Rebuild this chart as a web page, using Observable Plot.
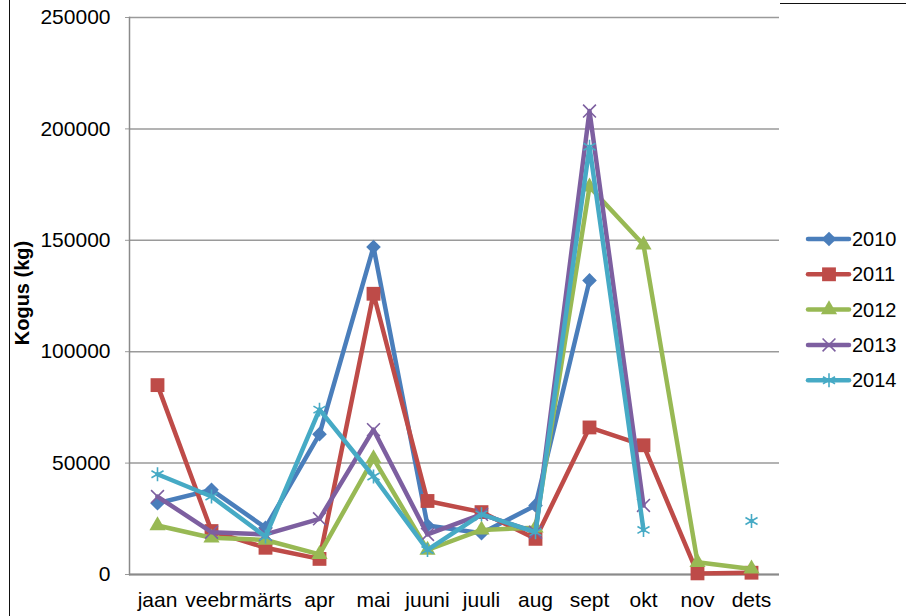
<!DOCTYPE html>
<html>
<head>
<meta charset="utf-8">
<script src="https://cdn.jsdelivr.net/npm/d3@7"></script>
<script src="https://cdn.jsdelivr.net/npm/@observablehq/plot@0.6"></script>
<style>
  html, body { margin: 0; padding: 0; background: #fff; }
  #wrap { position: relative; width: 906px; height: 616px; overflow: hidden; font-family: "Liberation Sans", Arial, sans-serif; }
  #chart { position: absolute; left: 0; top: 0; }
  #legend { position: absolute; left: 800px; top: 222px; }
  .bl { position: absolute; background: #111; }
</style>
</head>
<body>
<div id="wrap">
  <div class="bl" style="left:9px; top:0; width:1px; height:616px;"></div>
  <div class="bl" style="left:780px; top:3px; width:126px; height:1px;"></div>
  <div id="chart"></div>
  <svg id="legend" width="106" height="180"></svg>
</div>
<script>
// ---- data ----
const months = ["jaan", "veebr", "märts", "apr", "mai", "juuni", "juuli", "aug", "sept", "okt", "nov", "dets"];
const years = ["2010", "2011", "2012", "2013", "2014"];
const yTicks = [0, 50000, 100000, 150000, 200000, 250000];
const v2010 = [32000, 38000, 21000, 63000, 147000, 22000, 18500, 31000, 132000, null, null, null];
const v2011 = [85000, 19500, 12000, 7000, 126000, 33000, 28000, 16000, 66000, 58000, 500, 800];
const v2012 = [22000, 16500, 15500, 9000, 52000, 11000, 20000, 21000, 174000, 148000, 5500, 2500];
const v2013 = [35000, 19000, 18000, 25000, 65000, 18000, 27000, 19000, 208000, 31000, null, null];
const v2014 = [45000, 35000, 17000, 74000, 44000, 11000, 27000, 19000, 192000, 20000, null, 24000];

const seriesValues = [v2010, v2011, v2012, v2013, v2014];
const colors = ["#4A7EBB", "#BE4B48", "#98B954", "#7D5FA0", "#46AAC5"];
const symbols = ["diamond2", "square", "triangle", "times", "asterisk"];
const radii = [6.6, 7.8, 6.0, 5.9, 6.6];
const filled = [true, true, true, false, false];

const rows = [];
years.forEach((yr, i) => months.forEach((m, j) => rows.push({year: yr, month: m, value: seriesValues[i][j]})));

const marks = [
  Plot.gridY(yTicks, {stroke: "#9a9a9a", strokeOpacity: 1, strokeWidth: 1.5}),
  Plot.axisY(yTicks, {tickSize: 4, tickPadding: 15, fontSize: 21, stroke: "#9a9a9a", tickFormat: d => String(d), label: null}),
  Plot.axisX({tickSize: 0, tickPadding: 18, fontSize: 21, label: null}),
  Plot.frame({anchor: "left", stroke: "#8a8a8a", strokeWidth: 1.5}),
  Plot.ruleY([0], {stroke: "#8a8a8a", strokeWidth: 2})
];
years.forEach((yr, i) => {
  const d = rows.filter(r => r.year === yr);
  marks.push(Plot.line(d, {x: "month", y: "value", stroke: colors[i], strokeWidth: 4.5, strokeLinejoin: "round", strokeLinecap: "round"}));
  marks.push(Plot.dot(d.filter(r => r.value != null), {
    x: "month", y: "value", symbol: () => symbols[i], r: radii[i],
    fill: filled[i] ? colors[i] : "none", stroke: colors[i], strokeWidth: filled[i] ? 0 : 1.6
  }));
});

const chart = Plot.plot({
  width: 906,
  height: 616,
  marginLeft: 129,
  marginRight: 127,
  marginTop: 17,
  marginBottom: 42,
  style: {fontFamily: "'Liberation Sans', Arial, sans-serif", fontSize: "21px", color: "#000", background: "transparent"},
  x: {type: "point", domain: months, padding: 0.5},
  y: {domain: [0, 250000]},
  symbol: {type: "identity"},
  marks
});
document.getElementById("chart").appendChild(chart);

// y-axis title
const svg = d3.select(chart);
svg.append("text")
  .attr("transform", "translate(29,293) rotate(-90)")
  .attr("text-anchor", "middle")
  .attr("font-weight", "bold")
  .attr("font-size", 20)
  .attr("fill", "#000")
  .text("Kogus (kg)");

// legend
const lg = d3.select("#legend");
years.forEach((yr, i) => {
  const g = lg.append("g").attr("transform", `translate(0,${17 + i * 35.3})`);
  g.append("line").attr("x1", 8).attr("x2", 49).attr("y1", 0).attr("y2", 0)
    .attr("stroke", colors[i]).attr("stroke-width", 4.5).attr("stroke-linecap", "round");
  const typeMap = {diamond2: d3.symbolDiamond2, square: d3.symbolSquare, triangle: d3.symbolTriangle, times: d3.symbolTimes, asterisk: d3.symbolAsterisk};
  g.append("path").attr("transform", "translate(29,0)")
    .attr("d", d3.symbol(typeMap[symbols[i]], radii[i] * radii[i] * Math.PI)())
    .attr("fill", filled[i] ? colors[i] : "none")
    .attr("stroke", colors[i]).attr("stroke-width", filled[i] ? 0 : 1.6);
  g.append("text").attr("x", 52).attr("y", 0).attr("dy", "0.35em")
    .attr("font-size", 20).attr("fill", "#000").text(yr);
});
</script>
</body>
</html>
